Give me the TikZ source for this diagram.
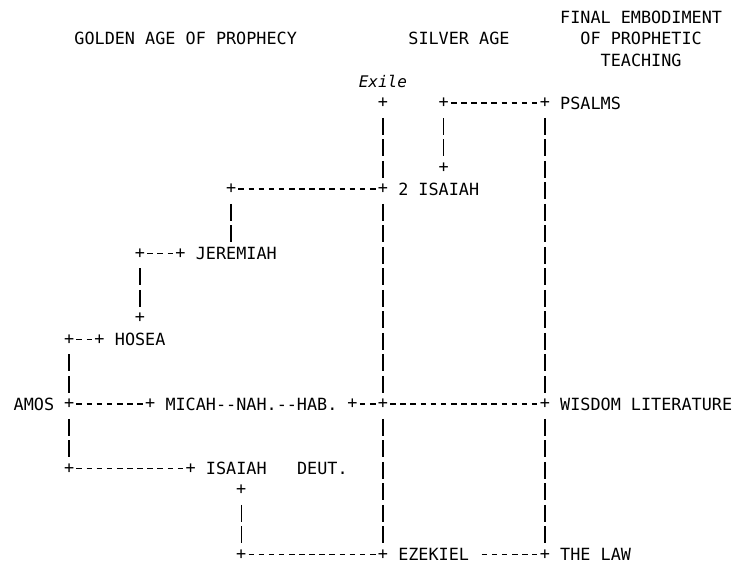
\documentclass[tikz,border=0pt]{standalone}
\usepackage{fontspec}
\setmonofont{DejaVu Sans Mono}
\begin{document}
\begin{tikzpicture}[x=10.12pt,y=-21.5pt,
  txt/.style={anchor=base west,inner sep=0pt,yshift=-6.12pt,font=\ttfamily\fontsize{16.8}{20}\selectfont},
  pl/.style={inner sep=0pt,font=\ttfamily\fontsize{16.8}{20}\selectfont},
  hln/.style={line width=1.3pt,dash pattern=on 5.6pt off 4.52pt,shorten <=7.32pt,shorten >=7.32pt},
  vln/.style={line width=1.4pt,dash pattern=on 16.8pt off 4.7pt,shorten <=14.8pt,shorten >=11.4pt}]
\useasboundingbox (-18.56pt,17pt) rectangle (716.44pt,-547pt);
% headings
\node[txt] (final) at (53.5,0) {FINAL EMBODIMENT};
\node[txt] (golden) at (5.5,1) {GOLDEN AGE OF PROPHECY};
\node[txt] (silver) at (38.5,1) {SILVER AGE};
\node[txt] (ofproph) at (55.5,1) {OF PROPHETIC};
\node[txt] (teach) at (57.5,2) {TEACHING};
\node[inner sep=0pt,anchor=base,yshift=-5.8pt,font=\ttfamily\itshape\fontsize{16}{20}\selectfont] (exile) at (36,3) {Exile};
% nodes
\node[pl] (ex0) at (36,4) {+};
\node[pl] (ps0) at (42,4) {+};
\node[pl] (r0) at (52,4) {+};
\node[txt] (psalms) at (53.5,4) {PSALMS};
\node[pl] (ps1) at (42,7) {+};
\node[pl] (i2L) at (21,8) {+};
\node[pl] (ex1) at (36,8) {+};
\node[txt] (isa2) at (37.5,8) {2 ISAIAH};
\node[pl] (jL) at (12,11) {+};
\node[pl] (jR) at (16,11) {+};
\node[txt] (jer) at (17.5,11) {JEREMIAH};
\node[pl] (jB) at (12,14) {+};
\node[pl] (hL) at (5,15) {+};
\node[pl] (hR) at (8,15) {+};
\node[txt] (hosea) at (9.5,15) {HOSEA};
\node[txt] (amos) at (-0.5,18) {AMOS};
\node[pl] (aA) at (5,18) {+};
\node[pl] (aM) at (13,18) {+};
\node[txt] (micah) at (14.5,18) {MICAH--NAH.--HAB.};
\node[pl] (aH) at (33,18) {+};
\node[pl] (ex2) at (36,18) {+};
\node[pl] (r1) at (52,18) {+};
\node[txt] (wisdom) at (53.5,18) {WISDOM LITERATURE};
\node[pl] (iL) at (5,21) {+};
\node[pl] (iR) at (17,21) {+};
\node[txt] (isaiah) at (18.5,21) {ISAIAH};
\node[txt] (deut) at (27.5,21) {DEUT.};
\node[pl] (iB) at (22,22) {+};
\node[pl] (eL) at (22,25) {+};
\node[pl] (ex3) at (36,25) {+};
\node[txt] (ezek) at (37.5,25) {EZEKIEL};
\node[pl] (r2) at (52,25) {+};
\node[txt] (law) at (53.5,25) {THE LAW};
% horizontal connectors
\draw[hln] (ps0.center) -- (r0.center);
\draw[hln] (i2L.center) -- (ex1.center);
\draw[hln] (jL.center) -- (jR.center);
\draw[hln] (hL.center) -- (hR.center);
\draw[hln] (aA.center) -- (aM.center);
\draw[hln] (aH.center) -- (ex2.center);
\draw[hln] (ex2.center) -- (r1.center);
\draw[hln] (iL.center) -- (iR.center);
\draw[hln] (eL.center) -- (ex3.center);
\draw[hln,shorten <=12.38pt] (ezek.east |- r2.center) -- (r2.center);
% vertical connectors
\draw[vln] (ps0.center) -- (ps1.center);
\draw[vln] (ex0.center) -- (ex1.center);
\draw[vln] (ex1.center) -- (ex2.center);
\draw[vln] (ex2.center) -- (ex3.center);
\draw[vln] (r0.center) -- (r1.center);
\draw[vln] (r1.center) -- (r2.center);
\draw[vln,shorten >=17.52pt] (i2L.center) -- (i2L.center |- jer.base);
\draw[vln] (jL.center) -- (jB.center);
\draw[vln] (hL.center) -- (aA.center);
\draw[vln] (aA.center) -- (iL.center);
\draw[vln] (iB.center) -- (eL.center);
\end{tikzpicture}
\end{document}
